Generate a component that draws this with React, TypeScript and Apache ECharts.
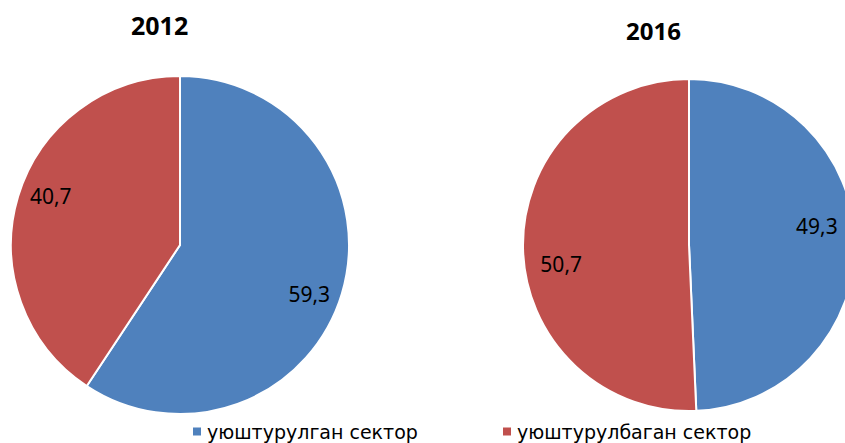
import React, { useEffect, useRef } from "react";
import * as echarts from "echarts";

const categories = ["уюштурулган сектор", "уюштурулбаган сектор"];
const years = ["2012", "2016"];
const values2012 = [59.3, 40.7];
const values2016 = [49.3, 50.7];
const colors = ["#4F81BD", "#C0504D"];

const FONT = "Noto Sans";

function fmt(v: number) {
  return v.toFixed(1).replace(".", ",");
}

function makeData(vals: number[]) {
  return categories.map((name, i) => ({
    name,
    value: vals[i],
    itemStyle: { color: colors[i] },
  }));
}

function pieSeries(
  vals: number[],
  center: [number, number],
  r: number,
  labelInner: number,
  labelStart: number
) {
  const main = {
    type: "pie",
    center,
    radius: r,
    startAngle: 90,
    clockwise: true,
    data: makeData(vals),
    label: { show: false },
    labelLine: { show: false },
    itemStyle: { borderColor: "#ffffff", borderWidth: 2 },
    emphasis: { disabled: true },
  };
  const labels = {
    type: "pie",
    center,
    radius: [r * labelInner, r],
    startAngle: labelStart,
    clockwise: true,
    silent: true,
    data: categories.map((name, i) => ({
      name,
      value: vals[i],
      itemStyle: { color: "transparent", borderWidth: 0 },
    })),
    label: {
      show: true,
      position: "inside",
      color: "#000000",
      fontFamily: FONT,
      fontSize: 21,
      formatter: (p: any) => fmt(p.value),
    },
    labelLine: { show: false },
    emphasis: { disabled: true },
  };
  return [main, labels];
}

export default function App() {
  const ref = useRef<HTMLDivElement>(null);
  useEffect(() => {
    if (!ref.current) return;
    const chart = echarts.init(ref.current, null, { renderer: "svg" });
    const legendCommon = {
      orient: "horizontal",
      top: 422,
      icon: "rect",
      itemWidth: 10,
      itemHeight: 10,
      itemGap: 6,
      padding: 0,
      selectedMode: false,
      textStyle: { fontFamily: "DejaVu Sans", fontSize: 19, lineHeight: 18, color: "#000000" },
    };
    chart.setOption({
      animation: false,
      backgroundColor: "#ffffff",
      title: [
        {
          text: years[0],
          left: 131,
          top: 12,
          padding: 0,
          textStyle: { fontFamily: FONT, fontSize: 25, fontWeight: "bold", color: "#000000" },
        },
        {
          text: years[1],
          left: 626,
          top: 18,
          padding: 0,
          textStyle: { fontFamily: FONT, fontSize: 24, fontWeight: "bold", color: "#000000" },
        },
      ],
      legend: [
        { ...legendCommon, left: 191, data: [categories[0]] },
        { ...legendCommon, left: 501, data: [categories[1]] },
      ],
      series: [
        ...pieSeries(values2012, [180, 245], 169, 0.6, 86),
        ...pieSeries(values2016, [689, 245], 166, 0.52, 97),
      ],
    });
    return () => chart.dispose();
  }, []);
  return (
    <div
      ref={ref}
      style={{ position: "fixed", left: 0, top: 0, width: 845, height: 443, overflow: "hidden" }}
    />
  );
}
